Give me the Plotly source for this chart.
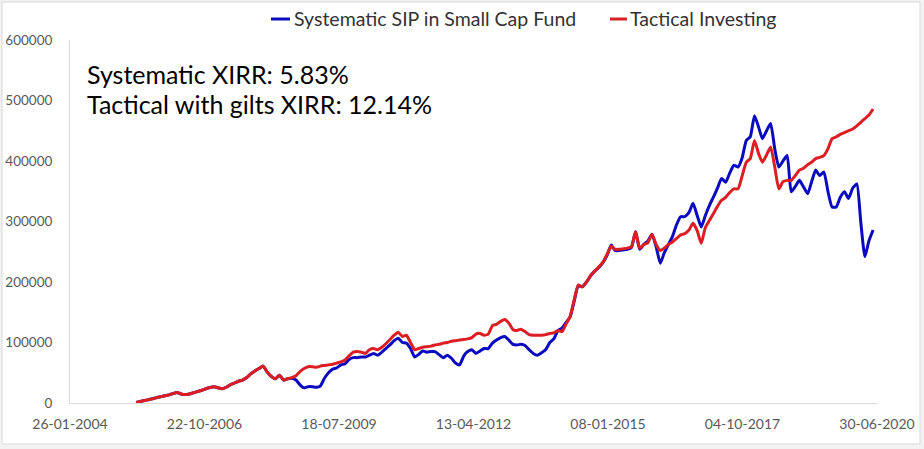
import pandas as pd
import plotly.graph_objects as go

# Monthly observation dates (Jun 2005 .. Jun 2020)
dates = pd.date_range("2005-06-01", "2020-06-01", freq="MS")

systematic_sip = [
    # 2005 (Jun-Dec)
    1000, 2500, 4000, 5500, 7000, 9000, 10500,
    # 2006
    12000, 13500, 15500, 17500, 15000, 14000, 15000, 17000, 19000, 21000, 23500, 25500,
    # 2007
    27000, 25000, 23500, 26000, 30000, 33000, 36000, 38000, 42000, 48000, 53000, 57000,
    # 2008
    61000, 51000, 44000, 40000, 46000, 38000, 40000, 41000, 38000, 30000, 25000, 27000,
    # 2009
    27000, 26000, 28000, 41000, 50000, 56000, 58000, 63000, 65000, 72000, 75000, 75000,
    # 2010
    76000, 76000, 79000, 82000, 79000, 84000, 90000, 96000, 103000, 107000, 100000, 99000,
    # 2011
    90000, 76000, 80000, 86000, 84000, 85000, 85000, 80000, 75000, 79000, 74000, 66000,
    # 2012
    63000, 78000, 85000, 88000, 82000, 86000, 90000, 90000, 99000, 104000, 108000, 110000,
    # 2013
    104000, 97000, 96000, 97000, 95000, 88000, 82000, 79000, 83000, 88000, 100000, 106000,
    # 2014
    120000, 124000, 133000, 142000, 168000, 194000, 192000, 200000, 210000, 218000, 224000, 232000,
    # 2015
    244000, 261000, 252000, 252000, 253000, 254000, 257000, 283000, 254000, 262000, 268000, 279000,
    # 2016
    258000, 231000, 248000, 262000, 275000, 295000, 308000, 308000, 315000, 330000, 310000, 291000,
    # 2017
    310000, 327000, 340000, 355000, 371000, 365000, 380000, 393000, 390000, 405000, 434000, 440000,
    # 2018
    475000, 456000, 437000, 450000, 462000, 420000, 390000, 400000, 409000, 349000, 358000, 368000,
    # 2019
    357000, 346000, 365000, 385000, 376000, 382000, 350000, 324000, 324000, 340000, 349000, 338000,
    # 2020 (Jan-Jun)
    355000, 362000, 300000, 242000, 268000, 286000,
]

tactical_investing = [
    # 2005 (Jun-Dec)
    1000, 2500, 4000, 5500, 7000, 9000, 10500,
    # 2006
    12000, 13500, 15500, 17500, 15000, 14000, 15000, 17000, 19000, 21000, 23500, 25500,
    # 2007
    27000, 25000, 23500, 26000, 30000, 33000, 36000, 38000, 42000, 48000, 53000, 57000,
    # 2008
    61000, 51000, 44000, 40000, 46000, 38000, 40000, 42000, 45000, 52000, 57000, 60000,
    # 2009
    60000, 59000, 61000, 62000, 63000, 64000, 66000, 68000, 71000, 78000, 84000, 85000,
    # 2010
    84000, 82000, 88000, 90000, 88000, 92000, 98000, 105000, 112000, 117000, 110000, 112000,
    # 2011
    100000, 88000, 90000, 92000, 93000, 94000, 96000, 97000, 99000, 100000, 102000, 103000,
    # 2012
    104000, 105000, 106000, 108000, 114000, 115000, 112000, 114000, 128000, 130000, 135000, 138000,
    # 2013
    132000, 121000, 120000, 122000, 118000, 113000, 112000, 112000, 112000, 113000, 115000, 116000,
    # 2014
    120000, 118000, 130000, 143000, 170000, 195000, 192000, 200000, 211000, 218000, 225000, 233000,
    # 2015
    246000, 259000, 254000, 254000, 255000, 256000, 258000, 283000, 256000, 262000, 265000, 279000,
    # 2016
    262000, 252000, 256000, 262000, 266000, 272000, 278000, 280000, 286000, 297000, 285000, 264000,
    # 2017
    290000, 302000, 313000, 325000, 335000, 340000, 348000, 354000, 354000, 375000, 398000, 404000,
    # 2018
    434000, 412000, 398000, 410000, 423000, 390000, 354000, 366000, 368000, 368000, 376000, 385000,
    # 2019
    388000, 394000, 398000, 404000, 406000, 409000, 420000, 437000, 440000, 444000, 447000, 450000,
    # 2020 (Jan-Jun)
    453000, 458000, 464000, 470000, 476000, 486000,
]

x_tick_dates = ["2004-01-26", "2006-10-22", "2009-07-18", "2012-04-13",
                "2015-01-08", "2017-10-04", "2020-06-30"]
x_tick_labels = ["26-01-2004", "22-10-2006", "18-07-2009", "13-04-2012",
                 "08-01-2015", "04-10-2017", "30-06-2020"]
y_ticks = [0, 100000, 200000, 300000, 400000, 500000, 600000]

series_names = ["Systematic SIP in Small Cap Fund", "Tactical Investing"]
notes = ["Systematic XIRR: 5.83%", "Tactical with gilts XIRR: 12.14%"]

BLUE = "#0A0ABE"
RED = "#DC1E23"
FONT = "Lato"

W, H = 924, 449
L, R, T, B = 70, 47, 40, 46
pw, ph = W - L - R, H - T - B


def px_x(p):
    return (p - L) / pw


def px_y(p):
    return (H - B - p) / ph


fig = go.Figure()
fig.add_trace(go.Scatter(x=dates, y=systematic_sip, name=series_names[0], mode="lines",
                         line=dict(color=BLUE, width=3, shape="spline", smoothing=0.5)))
fig.add_trace(go.Scatter(x=dates, y=tactical_investing, name=series_names[1], mode="lines",
                         line=dict(color=RED, width=3, shape="spline", smoothing=0.5)))

# Legend drawn by hand (short line swatch + label) so it does not push the margins
legend_items = [(series_names[0], BLUE, 271, 290, 292), (series_names[1], RED, 610, 627, 628)]
shapes = [dict(type="rect", xref="paper", yref="paper", layer="below",
               x0=px_x(2), x1=px_x(920), y0=px_y(444), y1=px_y(2),
               line=dict(color="#D9D9D9", width=1), fillcolor="white")]
annotations = []
for name, col, sx0, sx1, tx in legend_items:
    shapes.append(dict(type="line", xref="paper", yref="paper",
                       x0=px_x(sx0), x1=px_x(sx1), y0=px_y(19), y1=px_y(19),
                       line=dict(color=col, width=3)))
    annotations.append(dict(text=name, xref="paper", yref="paper", x=px_x(tx), y=px_y(19),
                            xanchor="left", yanchor="middle", showarrow=False,
                            font=dict(size=19.5, color="#333333", family=FONT)))

annotations.append(dict(text=notes[0], xref="paper", yref="paper", x=px_x(85), y=px_y(74),
                        xanchor="left", yanchor="middle", showarrow=False,
                        font=dict(size=25, color="#000000", family=FONT)))
annotations.append(dict(text=notes[1], xref="paper", yref="paper", x=px_x(85), y=px_y(104),
                        xanchor="left", yanchor="middle", showarrow=False,
                        font=dict(size=25, color="#000000", family=FONT)))

fig.update_layout(
    width=W, height=H,
    margin=dict(l=L, r=R, t=T, b=B, autoexpand=False),
    paper_bgcolor="#F2F2F2",
    plot_bgcolor="white",
    font=dict(family=FONT, color="#595959"),
    showlegend=False,
    xaxis=dict(type="date", range=[x_tick_dates[0], x_tick_dates[-1]],
               tickvals=x_tick_dates, ticktext=x_tick_labels, automargin=False,
               showgrid=False, zeroline=False, showline=True, linecolor="#D9D9D9", linewidth=1,
               ticks="", tickfont=dict(size=14, color="#595959"), ticklabelstandoff=8),
    yaxis=dict(range=[0, 600000], tickvals=y_ticks, tickformat="d", automargin=False,
               showgrid=False, zeroline=False, showline=True, linecolor="#D9D9D9", linewidth=1,
               ticks="", tickfont=dict(size=13.5, color="#595959"), ticklabelstandoff=14),
    shapes=shapes,
    annotations=annotations,
)

fig.write_html("out.html", config={"displayModeBar": False},
               post_script="document.body.style.margin='0';document.body.style.overflow='hidden';")
